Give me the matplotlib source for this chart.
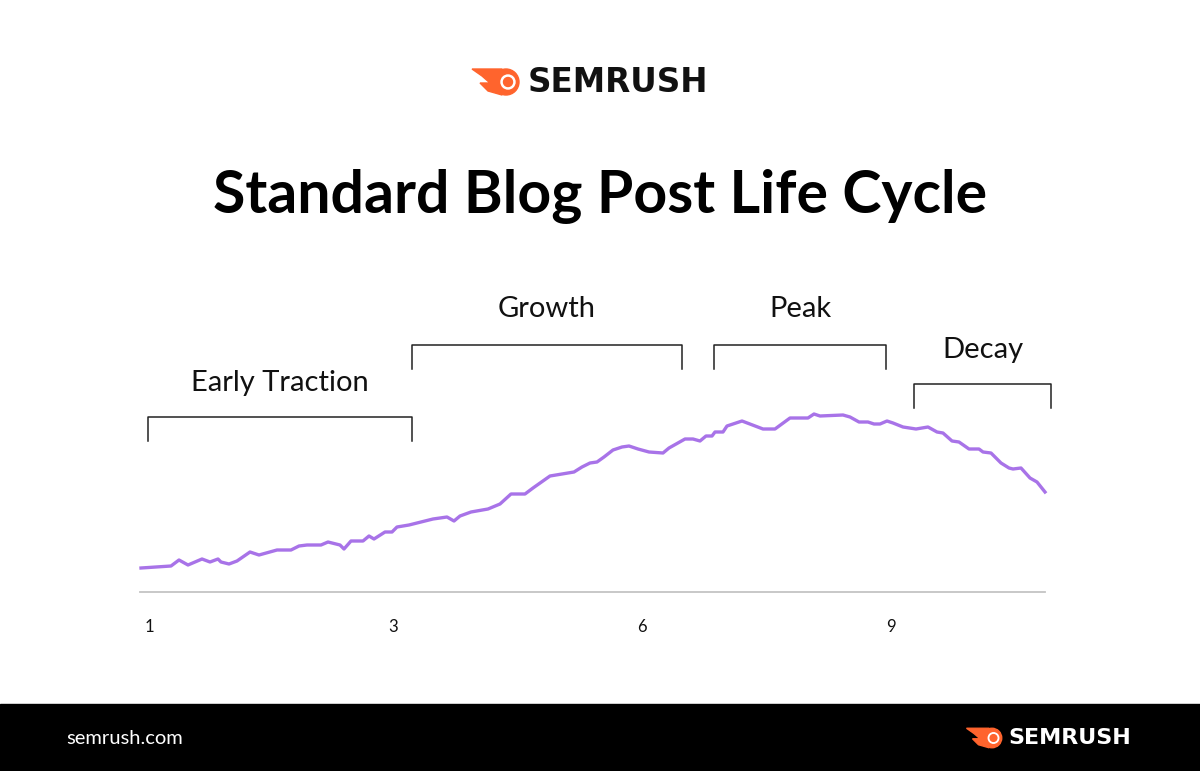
import matplotlib
matplotlib.use("Agg")
import matplotlib.pyplot as plt
from matplotlib.patches import Rectangle, Circle, Polygon

# x positions (pixel-scale time axis) and traffic level (pixels above baseline 600)
xs = [141,171,179,188,202,210,218,221,229,237,250,259,277,291,299,307,321,328,340,344,351,363,369,374,385,392,397,409,421,433,447,454,460,471,488,500,511,525,533,550,562,574,582,590,597,604,613,622,629,638,649,663,669,685,693,700,706,712,715,723,727,742,763,775,790,808,814,820,843,850,859,868,874,880,887,893,903,916,928,937,943,952,959,969,979,983,991,1001,1009,1013,1021,1030,1037,1045]
ys_px = [568,566,560,565,559,562,559,562,564,561,552,555,550,550,546,545,545,542,545,549,541,541,536,539,532,532,527,525,522,519,517,521,516,512,509,504,494,494,488,476,474,472,467,463,462,457,450,447,446,449,452,453,448,439,439,441,436,436,432,432,426,421,429,429,418,418,414,416,415,417,422,422,424,424,421,423,427,429,427,432,433,441,442,449,449,452,453,463,468,469,468,478,482,492]
traffic = [771 - y for y in ys_px]

tick_pos = [149, 393, 642, 891]
tick_labels = ["1", "3", "6", "9"]

phases = ["Early Traction", "Growth", "Peak", "Decay"]
phase_start = [148, 412, 714, 914]
phase_end = [412, 682, 886, 1051]
phase_top = [417, 345, 345, 384]
label_y = [383, 309, 309, 350]

fig = plt.figure(figsize=(12, 7.71), dpi=100)
ax = fig.add_axes([0, 0, 1, 1])
ax.set_xlim(0, 1200)
ax.set_ylim(0, 771)
ax.axis("off")
F = "Lato"

def Y(py):
    return 771 - py

ax.plot(xs, traffic, color="#A873E8", lw=2.4, solid_joinstyle="round")
ax.plot([140, 1045], [Y(592), Y(592)], color="#C4C4C4", lw=1.3)
for p, l in zip(tick_pos, tick_labels):
    ax.text(p, Y(627), l, fontsize=12, ha="center", va="center", family=F, color="#111")

for name, s, e, t, ly in zip(phases, phase_start, phase_end, phase_top, label_y):
    ax.plot([s, s, e, e], [Y(t + 24), Y(t), Y(t), Y(t + 24)], color="#222", lw=1.1)
    ax.text((s + e) / 2, Y(ly), name, fontsize=21,
            ha="center", va="center", family=F, color="#111")

ax.text(600, Y(197), "Standard Blog Post Life Cycle", fontsize=42.5, fontweight="bold",
        ha="center", va="center", family=F, color="#000")

def logo(cx, cy, scale, textsize, textcolor):
    ax.add_patch(Circle((cx, Y(cy)), 13 * scale, color="#FF642D", zorder=3))
    ax.add_patch(Circle((cx + 2 * scale, Y(cy)), 7 * scale, color="white", zorder=4))
    ax.add_patch(Circle((cx + 2 * scale, Y(cy)), 4.5 * scale, color="#FF642D", zorder=5))
    ax.add_patch(Polygon([(cx - 34 * scale, Y(cy - 13 * scale)), (cx - 4 * scale, Y(cy - 13 * scale)),
                          (cx - 4 * scale, Y(cy + 13 * scale)), (cx - 18 * scale, Y(cy + 9 * scale)),
                          (cx - 26 * scale, Y(cy + 1 * scale)), (cx - 16 * scale, Y(cy + 1 * scale)),
                          (cx - 24 * scale, Y(cy - 6 * scale))], color="#FF642D", zorder=2))
    ax.text(cx + 22 * scale, Y(cy), "SEMRUSH", fontsize=textsize, fontweight="bold",
            ha="left", va="center", family="DejaVu Sans", color=textcolor)

logo(506, 82, 1.0, 23.5, "#111")
ax.add_patch(Rectangle((0, 0), 1200, Y(704), color="black", zorder=1))
ax.text(66, Y(738), "semrush.com", fontsize=14.5, ha="left", va="center", family=F, color="white", zorder=2)
logo(992, 738, 0.75, 16, "white")

fig.savefig("out.png", dpi=100)
